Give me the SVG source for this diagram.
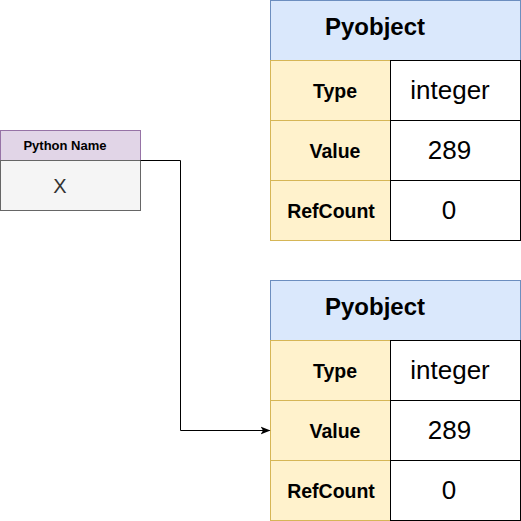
<svg xmlns="http://www.w3.org/2000/svg" width="521" height="521" viewBox="0 0 521 521">
<style>
text{font-family:"Liberation Sans",Arial,sans-serif;text-anchor:middle;dominant-baseline:central;fill:#000}
.hd{fill:#dae8fc;stroke:#6c8ebf}
.k{fill:#fff2cc;stroke:#d6b656}
.v{fill:#fff;stroke:#000}
.t{font-size:24px;font-weight:bold}
.kt{font-size:19.5px;font-weight:bold}
.vt{font-size:26px}
</style>
<defs>
<marker id="ar" viewBox="0 0 10 10" refX="9" refY="5" markerWidth="10" markerHeight="10" markerUnits="userSpaceOnUse" orient="auto"><path d="M0,1 L10,5 L0,9 L2.5,5 Z" fill="#000"/></marker>
</defs>
<g id="pyname">
<rect x="0.5" y="130.5" width="140" height="30" fill="#e1d5e7" stroke="#9673a6"/>
<rect x="0.5" y="160.5" width="140" height="50" fill="#f5f5f5" stroke="#666666"/>
<text x="65" y="145.5" style="font-size:13px;font-weight:bold">Python Name</text>
<text x="60" y="186" style="font-size:20px;fill:#333">X</text>
</g>
<g id="obj1">
<rect class="hd" x="270.5" y="0.5" width="250" height="60"/>
<text class="t" x="375" y="26">Pyobject</text>
<rect class="k" x="270.5" y="60.5" width="120" height="60"/>
<rect class="k" x="270.5" y="120.5" width="120" height="60"/>
<rect class="k" x="270.5" y="180.5" width="120" height="60"/>
<rect class="v" x="390.5" y="60.5" width="130" height="60"/>
<rect class="v" x="390.5" y="120.5" width="130" height="60"/>
<rect class="v" x="390.5" y="180.5" width="130" height="60"/>
<text class="kt" x="335" y="91">Type</text>
<text class="kt" x="335" y="151">Value</text>
<text class="kt" x="331" y="211">RefCount</text>
<text class="vt" x="450" y="90">integer</text>
<text class="vt" x="449.5" y="150">289</text>
<text class="vt" x="449" y="210">0</text>
</g>
<g id="obj2">
<rect class="hd" x="270.5" y="280.5" width="250" height="60"/>
<text class="t" x="375" y="306">Pyobject</text>
<rect class="k" x="270.5" y="340.5" width="120" height="60"/>
<rect class="k" x="270.5" y="400.5" width="120" height="60"/>
<rect class="k" x="270.5" y="460.5" width="120" height="60"/>
<rect class="v" x="390.5" y="340.5" width="130" height="60"/>
<rect class="v" x="390.5" y="400.5" width="130" height="60"/>
<rect class="v" x="390.5" y="460.5" width="130" height="60"/>
<text class="kt" x="335" y="371">Type</text>
<text class="kt" x="335" y="431">Value</text>
<text class="kt" x="331" y="491">RefCount</text>
<text class="vt" x="450" y="370">integer</text>
<text class="vt" x="449.5" y="430">289</text>
<text class="vt" x="449" y="490">0</text>
</g>
<g id="connectors">
<path d="M140.5,160.5 H180.5 V430.5 H269.5" fill="none" stroke="#000" marker-end="url(#ar)"/>
</g>
</svg>
